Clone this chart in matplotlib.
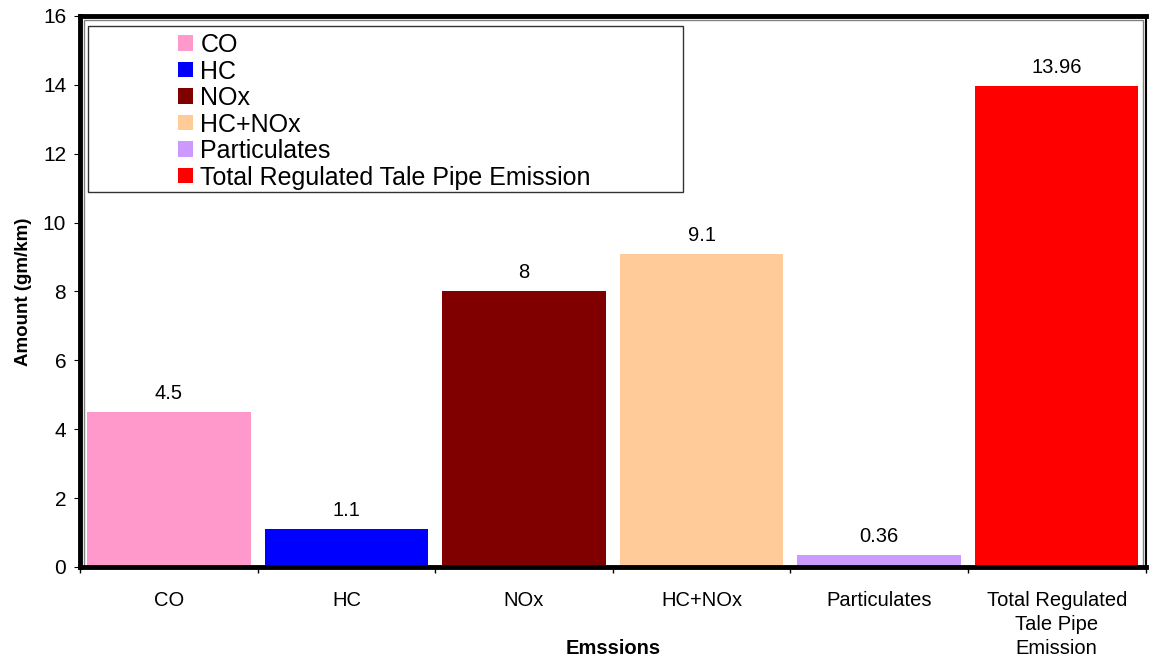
import matplotlib
matplotlib.use("Agg")
import matplotlib.pyplot as plt
from matplotlib.patches import Rectangle, Patch
import numpy as np

plt.rcParams['font.family'] = ['Liberation Sans', 'DejaVu Sans']

# data
categories = ['CO', 'HC', 'NOx', 'HC+NOx', 'Particulates', 'Total Regulated Tale Pipe Emission']
tick_labels = ['CO', 'HC', 'NOx', 'HC+NOx', 'Particulates', 'Total Regulated\nTale Pipe\nEmission']
amounts = [4.5, 1.1, 8, 9.1, 0.36, 13.96]
value_labels = ['4.5', '1.1', '8', '9.1', '0.36', '13.96']
colors = ['#FF99CC', '#0000FF', '#800000', '#FFCC99', '#CC99FF', '#FF0000']

fig = plt.figure(figsize=(11.5, 6.6), dpi=100)
ax = fig.add_axes([0.0696, 0.141, 0.9265, 0.835])

x_pos = np.arange(len(categories))
ax.bar(x_pos, amounts, 0.92, color=colors, zorder=2)
for xp, v, lab in zip(x_pos, amounts, value_labels):
    ax.text(xp, v + 0.26, lab, ha='center', va='bottom', fontsize=14.5)

ax.set_xlim(-0.5, len(categories) - 0.5)
ax.set_ylim(0, 16)
ax.set_yticks(np.arange(0, 17, 2))
ax.set_xticks(x_pos)
ax.set_xticklabels(tick_labels, fontsize=14.5, linespacing=1.35)
ax.set_xticks(np.arange(-0.5, len(categories), 1), minor=True)
ax.tick_params(axis='x', which='major', length=0, pad=17)
ax.tick_params(axis='x', which='minor', length=4, width=1, direction='out')
ax.tick_params(axis='y', labelsize=15, length=4, direction='out', pad=6)

for side in ['left', 'top', 'bottom']:
    ax.spines[side].set_linewidth(3.5)
ax.spines['right'].set_linewidth(1.5)

# inner gray frame line
ax.add_patch(Rectangle((0.004, 0), 0.9935, 0.993, transform=ax.transAxes,
                       fill=False, edgecolor='#808080', linewidth=1, zorder=1))

ax.set_ylabel('Amount (gm/km)', fontsize=13.5, fontweight='bold', labelpad=8)
ax.set_xlabel('Emssions', fontsize=14.5, fontweight='bold')
ax.xaxis.set_label_coords(0.5, -0.13)

# legend with an Excel-like stretched frame
ax.add_patch(Rectangle((0.0075, 0.68), 0.5585, 0.302, transform=ax.transAxes,
                       facecolor='white', edgecolor='#333333', linewidth=1, zorder=3))
handles = [Patch(facecolor=c, edgecolor='none') for c in colors]
leg = ax.legend(handles, categories, loc='upper left', bbox_to_anchor=(0.083, 0.987),
                frameon=False, fontsize=18, handlelength=0.58, handleheight=0.58,
                handletextpad=0.3, labelspacing=0.1, borderaxespad=0)
leg.set_zorder(4)

fig.savefig("out.png")
